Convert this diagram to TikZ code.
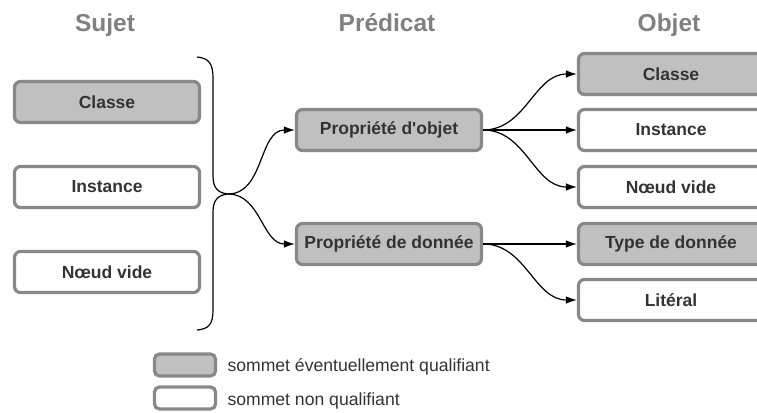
\documentclass[tikz,border=0pt]{standalone}
\usepackage{fontspec}
\setmainfont{Liberation Sans}
\usetikzlibrary{arrows.meta}
\definecolor{boxgray}{HTML}{C0C0C0}
\definecolor{bordergray}{HTML}{888888}
\definecolor{txt}{HTML}{333333}
\definecolor{headgray}{HTML}{808080}
\tikzset{
  base/.style={rounded corners=6pt, draw=bordergray, line width=3.2pt,
    minimum width=185pt, minimum height=41pt, inner sep=0pt,
    text=txt, font=\fontsize{17.5}{20}\selectfont\bfseries},
  qual/.style={base, fill=boxgray},
  nonqual/.style={base, fill=white},
  head/.style={text=headgray, font=\fontsize{24.5}{28}\selectfont\bfseries, anchor=base},
  conn/.style={line width=1.2pt, -{Latex[length=11pt,width=7.5pt]}},
  legbox/.style={rounded corners=5pt, draw=bordergray, line width=3.2pt,
    minimum width=61pt, minimum height=22pt, inner sep=0pt},
  legtxt/.style={text=txt, font=\fontsize{17.6}{20}\selectfont, anchor=west}
}
\begin{document}
\begin{tikzpicture}[x=1pt,y=-1pt]
\clip (0,0) rectangle (757,412);
\useasboundingbox (0,0) rectangle (757,412);
% headers
\node[head] (hs) at (105,32) {Sujet};
\node[head] (hp) at (387,32) {Prédicat};
\node[head] (ho) at (669,32) {Objet};
% subject boxes
\node[qual] (s1) at (107,102) {Classe};
\node[nonqual] (s2) at (107,187) {Instance};
\node[nonqual] (s3) at (107,272) {Nœud vide};
% brace
\coordinate (tip) at (228,194);
\draw[line width=1.2pt] (197,57) .. controls (209,58) and (213,64) .. (213,78)
  -- (213,176) .. controls (213,188) and (218,193) .. (tip)
  .. controls (218,195) and (213,200) .. (213,212)
  -- (213,310) .. controls (213,324) and (209,329) .. (197,330);
% predicates
\node[qual] (p1) at (389,130) {Propriété d\textquotesingle objet};
\node[qual] (p2) at (389,244) {Propriété de donnée};
% objects
\node[qual] (o1) at (671,74) {Classe};
\node[nonqual] (o2) at (671,130) {Instance};
\node[nonqual] (o3) at (671,187) {Nœud vide};
\node[qual] (o4) at (671,244) {Type de donnée};
\node[nonqual] (o5) at (671,300) {Litéral};
% connectors
\draw[conn] (tip) to[out=0,in=180] (p1.west);
\draw[conn] (tip) to[out=0,in=180] (p2.west);
\draw[conn] (p1.east) to[out=0,in=180] (o1.west);
\draw[conn] (p1.east) -- (o2.west);
\draw[conn] (p1.east) to[out=0,in=180] (o3.west);
\draw[conn] (p2.east) -- (o4.west);
\draw[conn] (p2.east) to[out=0,in=180] (o5.west);
% legend
\node[legbox, fill=boxgray] (l1) at (185,365) {};
\node[legbox, fill=white] (l2) at (185,398) {};
\node[legtxt] (t1) at (224,367) {sommet éventuellement qualifiant};
\node[legtxt] (t2) at (224,401) {sommet non qualifiant};
\end{tikzpicture}
\end{document}
